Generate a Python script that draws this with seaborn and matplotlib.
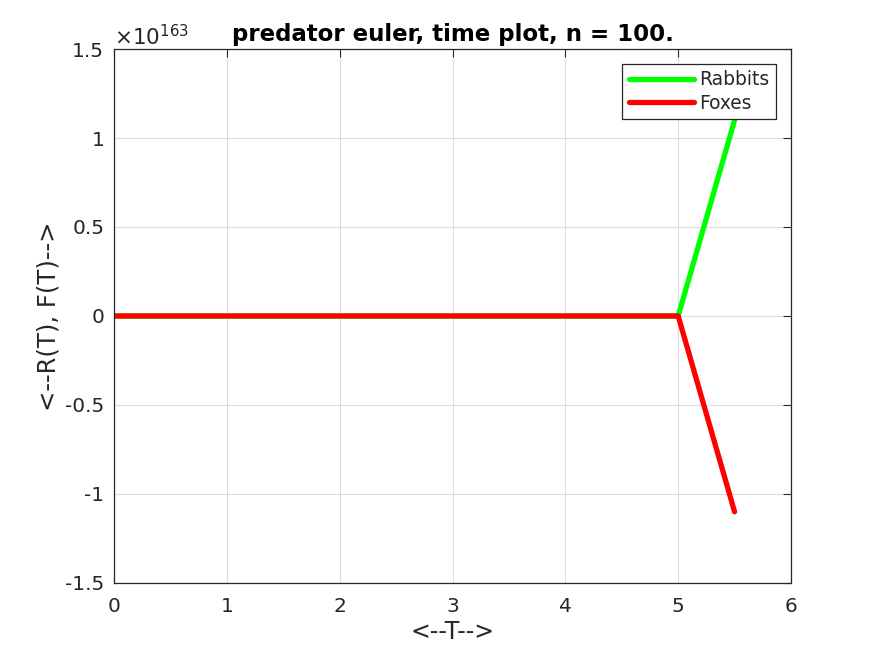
import numpy as np
import pandas as pd
import matplotlib
matplotlib.use("Agg")
import matplotlib.pyplot as plt
import seaborn as sns
from matplotlib.ticker import FuncFormatter, MultipleLocator

# values (populations blow up after t = 5)
t = [0.0, 1.0, 2.0, 3.0, 4.0, 5.0, 5.5]
rabbits = [0.0, 0.0, 0.0, 0.0, 0.0, 0.0, 1.1e163]
foxes = [0.0, 0.0, 0.0, 0.0, 0.0, 0.0, -1.1e163]
series_names = ["Rabbits", "Foxes"]
series_colors = ["#00ff00", "#ff0000"]
scale = 1e163

sns.set_style("white")
plt.rcParams["font.family"] = ["DejaVu Sans"]
plt.rcParams["axes.unicode_minus"] = False

df = pd.DataFrame({"T": t * 2,
                   "value": rabbits + foxes,
                   "who": [series_names[0]] * len(t) + [series_names[1]] * len(t)})

fig = plt.figure(figsize=(8.75, 6.56), dpi=100)
ax = fig.add_axes([0.1303, 0.1113, 0.7737, 0.814])

sns.lineplot(data=df, x="T", y="value", hue="who", palette=series_colors,
             linewidth=3.8, ax=ax, sort=False, estimator=None)

ax.set_xlim(0, 6)
ax.set_ylim(-1.5 * scale, 1.5 * scale)
ax.xaxis.set_major_locator(MultipleLocator(1))
ax.yaxis.set_major_locator(MultipleLocator(0.5 * scale))
ax.yaxis.set_major_formatter(FuncFormatter(lambda v, p: "%g" % round(v / scale, 3)))

ax.grid(True, color="#dcdcdc", linewidth=0.8)
ax.set_axisbelow(True)
for s in ax.spines.values():
    s.set_color("#262626")
    s.set_linewidth(0.9)
ax.tick_params(axis="both", which="major", direction="in", length=6, width=0.8,
               color="#262626", labelcolor="#262626", labelsize=14.5,
               top=True, right=True)
ax.tick_params(axis="x", pad=10)
ax.tick_params(axis="y", pad=7)

ax.text(0.0, 1.0075, r"$\times10^{163}$", transform=ax.transAxes,
        fontsize=15.5, color="#262626", ha="left", va="baseline")

ax.set_title("predator euler, time plot, n = 100.", fontsize=16.5, fontweight="bold",
             color="black", pad=6)
ax.set_xlabel("<--T-->", fontsize=17, color="#262626", labelpad=3)
ax.set_ylabel("<--R(T), F(T)-->", fontsize=17.5, color="#262626", labelpad=3)

leg = ax.legend(loc="upper right", fontsize=13.4, frameon=True, fancybox=False,
                framealpha=1, edgecolor="#262626", borderpad=0.35,
                handlelength=3.5, handletextpad=0.3, labelspacing=0.22,
                borderaxespad=0.8)
leg.get_frame().set_linewidth(0.9)

fig.savefig("out.png", dpi=100, facecolor="white")
